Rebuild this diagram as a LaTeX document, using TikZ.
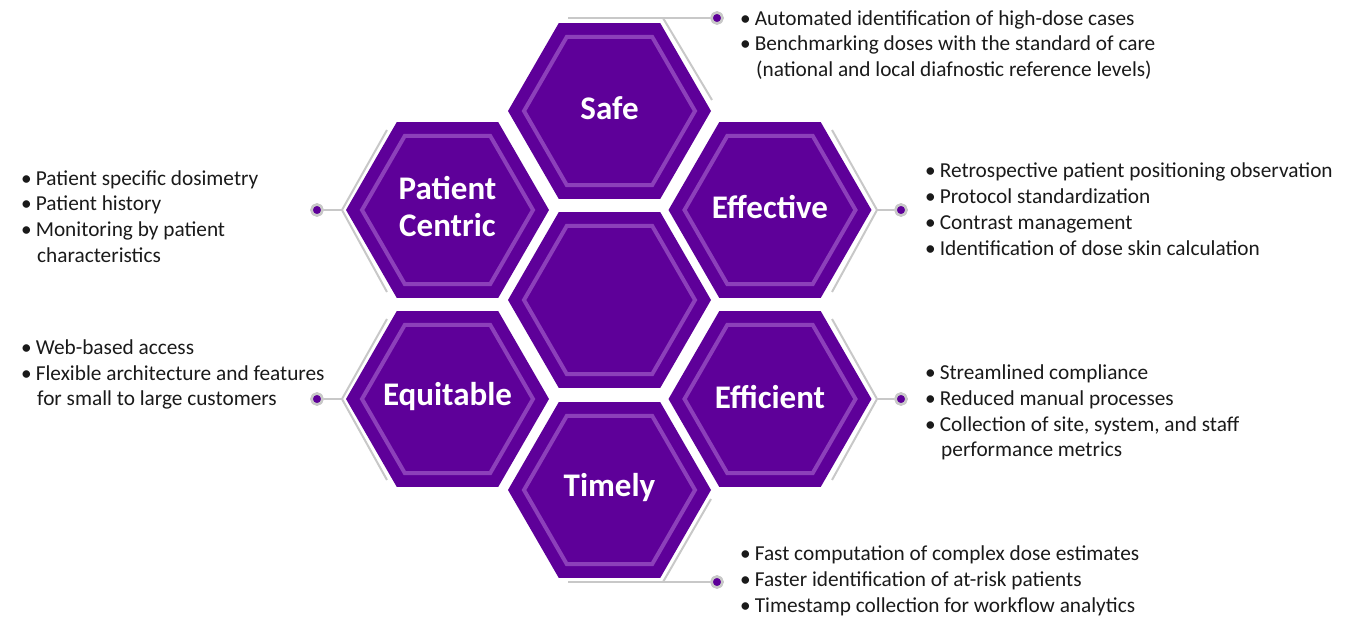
\documentclass[tikz,border=0pt]{standalone}
\usepackage{fontspec}
\setmainfont{Carlito}
\usetikzlibrary{shapes.geometric}
\definecolor{hexpurple}{RGB}{94,0,153}
\definecolor{hexlight}{RGB}{140,64,186}
\definecolor{conngray}{RGB}{200,200,200}
\definecolor{textdark}{RGB}{26,26,26}
\newcommand{\bl}[1]{\textbullet\hspace{4pt}#1}
\newcommand{\cl}[1]{\hspace{16pt}#1}
\begin{document}
\begin{tikzpicture}[x=1pt,y=-1pt,
  hexfill/.style={regular polygon, regular polygon sides=6, minimum size=203pt, inner sep=0pt, fill=hexpurple},
  hexline/.style={regular polygon, regular polygon sides=6, minimum size=171pt, inner sep=0pt, draw=hexlight, line width=4pt},
  hexlabel/.style={text=white, font=\fontsize{33}{37}\selectfont\bfseries, align=center, inner sep=0pt},
  conn/.style={draw=conngray, line width=2pt},
  dotmark/.style={circle, fill=hexpurple, draw=conngray, line width=2.5pt, minimum size=11pt, inner sep=0pt},
  info/.style={font=\fontsize{21.3}{25.8}\selectfont, align=left, anchor=west, inner sep=0pt, text=textdark}]
\useasboundingbox (0,0) rectangle (1360,620);

% hexagons
\node[hexfill] (center) at (609.5,300) {};
\node[hexline] (centerL) at (center) {};

\node[hexfill] (safe) at (609.5,111) {};
\node[hexline] (safeL) at (safe) {};
\node[hexlabel] (safeT) at (609.5,108) {Safe};

\node[hexfill] (pat) at (447.5,210) {};
\node[hexline] (patL) at (pat) {};
\node[hexlabel] (patT) at (447.5,207) {Patient\\Centric};

\node[hexfill] (eff) at (770,210) {};
\node[hexline] (effL) at (eff) {};
\node[hexlabel] (effT) at (770,207) {Effective};

\node[hexfill] (equ) at (447.5,399) {};
\node[hexline] (equL) at (equ) {};
\node[hexlabel] (equT) at (447.5,397) {Equitable};

\node[hexfill] (efi) at (770,399) {};
\node[hexline] (efiL) at (efi) {};
\node[hexlabel] (efiT) at (770,397) {Efficient};

\node[hexfill] (tim) at (609.5,490) {};
\node[hexline] (timL) at (tim) {};
\node[hexlabel] (timT) at (609.5,488) {Timely};

% connectors
\coordinate (sA) at (568,18);
\coordinate (sB) at (663,18);
\coordinate (sC) at (712,100);
\node[dotmark] (sD) at (717,18) {};
\draw[conn] (sA) -- (sD);
\draw[conn] (sB) -- (sC);

\coordinate (pA) at (387,130);
\coordinate (pB) at (342,210);
\coordinate (pC) at (387,292);
\node[dotmark] (pD) at (317,210) {};
\draw[conn] (pA) -- (pB) -- (pC);
\draw[conn] (pB) -- (pD);

\coordinate (eA) at (832,130);
\coordinate (eB) at (877,210);
\coordinate (eC) at (832,292);
\node[dotmark] (eD) at (901,210) {};
\draw[conn] (eA) -- (eB) -- (eC);
\draw[conn] (eB) -- (eD);

\coordinate (qA) at (387,319);
\coordinate (qB) at (342,399);
\coordinate (qC) at (387,480);
\node[dotmark] (qD) at (317,399) {};
\draw[conn] (qA) -- (qB) -- (qC);
\draw[conn] (qB) -- (qD);

\coordinate (fA) at (832,319);
\coordinate (fB) at (877,399);
\coordinate (fC) at (832,480);
\node[dotmark] (fD) at (901,399) {};
\draw[conn] (fA) -- (fB) -- (fC);
\draw[conn] (fB) -- (fD);

\coordinate (tA) at (568,582);
\coordinate (tB) at (663,582);
\coordinate (tC) at (711,499);
\node[dotmark] (tD) at (717,582) {};
\draw[conn] (tA) -- (tD);
\draw[conn] (tB) -- (tC);
% redraw dots on top
\node[dotmark] at (sD) {};
\node[dotmark] at (pD) {};
\node[dotmark] at (eD) {};
\node[dotmark] at (qD) {};
\node[dotmark] at (fD) {};
\node[dotmark] at (tD) {};

% texts
\node[info] (safeI) at (740,45) {\bl{Automated identification of high-dose cases}\\\bl{Benchmarking doses with the standard of care}\\\cl{(national and local diafnostic reference levels)}};
\node[info] (patI) at (21,216.5) {\bl{Patient specific dosimetry}\\\bl{Patient history}\\\bl{Monitoring by patient}\\\cl{characteristics}};
\node[info] (effI) at (925,209) {\bl{Retrospective patient positioning observation}\\\bl{Protocol standardization}\\\bl{Contrast management}\\\bl{Identification of dose skin calculation}};
\node[info] (equI) at (21,374.5) {\bl{Web-based access}\\\bl{Flexible architecture and features}\\\cl{for small to large customers}};
\node[info] (efiI) at (925,412.5) {\bl{Streamlined compliance}\\\bl{Reduced manual processes}\\\bl{Collection of site, system, and staff}\\\cl{performance metrics}};
\node[info] (timI) at (740,581) {\bl{Fast computation of complex dose estimates}\\\bl{Faster identification of at-risk patients}\\\bl{Timestamp collection for workflow analytics}};
\end{tikzpicture}
\end{document}
